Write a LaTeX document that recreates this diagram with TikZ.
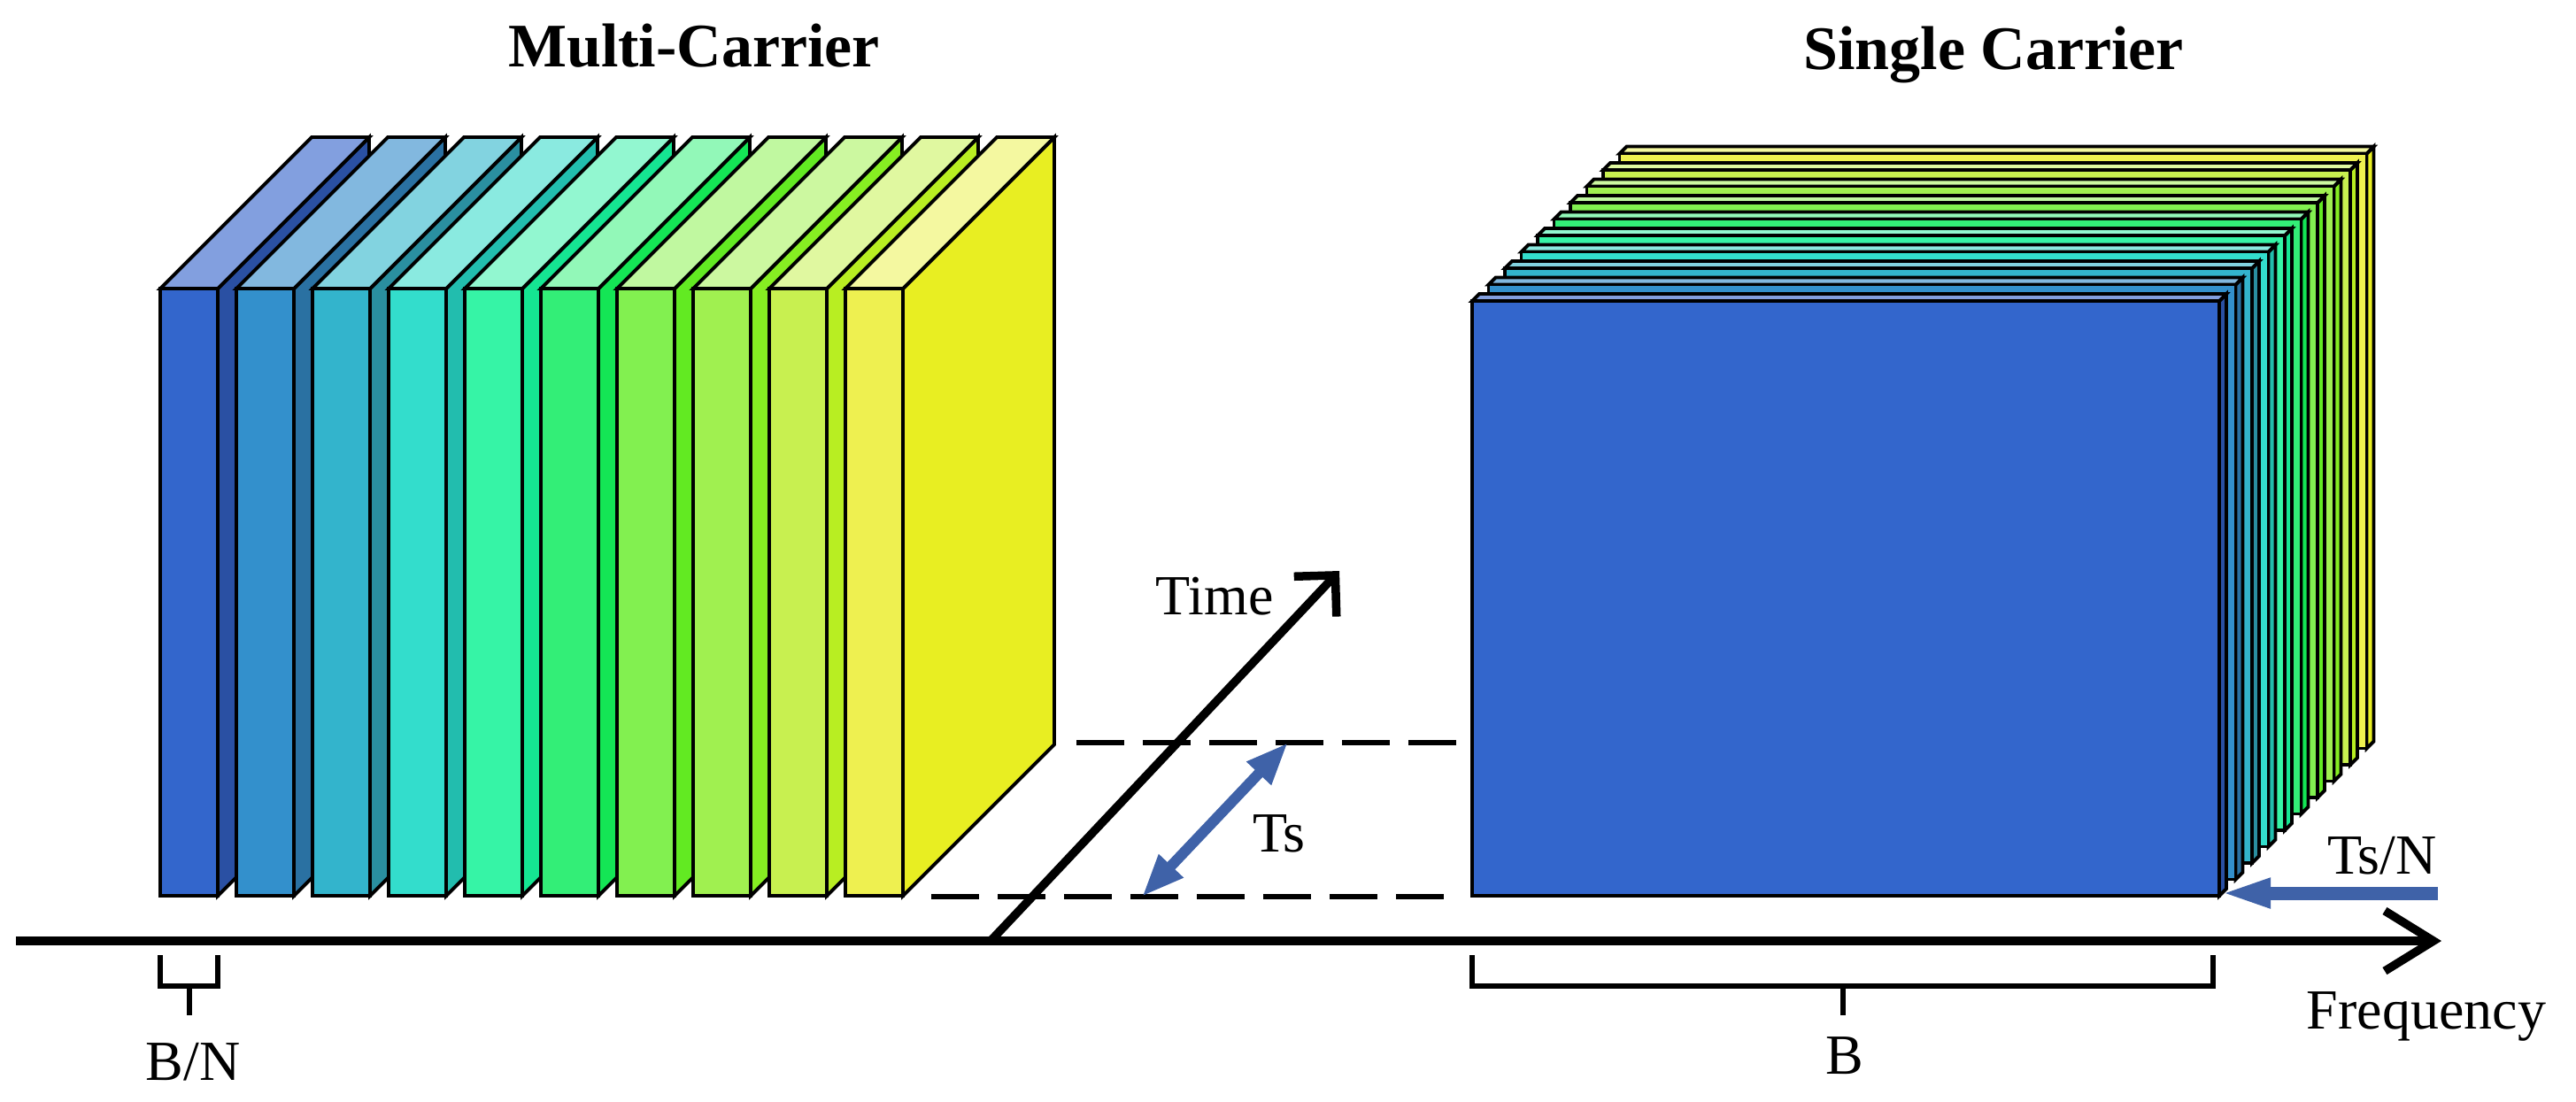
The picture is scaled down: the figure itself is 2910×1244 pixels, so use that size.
\documentclass[tikz,border=0pt]{standalone}
\usepackage{fontspec}
\setmainfont{Liberation Serif}
\usetikzlibrary{arrows.meta}

\definecolor{fr1}{HTML}{3366CC}\definecolor{tp1}{HTML}{829FDF}\definecolor{sd1}{HTML}{2A50A3}
\definecolor{fr2}{HTML}{3390CC}\definecolor{tp2}{HTML}{82B8DF}\definecolor{sd2}{HTML}{2A71A2}
\definecolor{fr3}{HTML}{33B4CC}\definecolor{tp3}{HTML}{82D3E0}\definecolor{sd3}{HTML}{2A8FA0}
\definecolor{fr4}{HTML}{33DDCC}\definecolor{tp4}{HTML}{8AEAE0}\definecolor{sd4}{HTML}{22BDAE}
\definecolor{fr5}{HTML}{36F4A6}\definecolor{tp5}{HTML}{92F7D0}\definecolor{sd5}{HTML}{15E592}
\definecolor{fr6}{HTML}{33EE77}\definecolor{tp6}{HTML}{92F8B8}\definecolor{sd6}{HTML}{14E555}
\definecolor{fr7}{HTML}{82F050}\definecolor{tp7}{HTML}{C0F8A0}\definecolor{sd7}{HTML}{62EA22}
\definecolor{fr8}{HTML}{A0F050}\definecolor{tp8}{HTML}{CCF8A0}\definecolor{sd8}{HTML}{86EE22}
\definecolor{fr9}{HTML}{C8F050}\definecolor{tp9}{HTML}{E0F8A0}\definecolor{sd9}{HTML}{B8EE22}
\definecolor{fr10}{HTML}{EEF050}\definecolor{tp10}{HTML}{F4F8A0}\definecolor{sd10}{HTML}{E8EE22}
\definecolor{tsblue}{HTML}{3F62A8}

\begin{document}
\begin{tikzpicture}[x=0.01cm, y=-0.01cm,
	slab/.style={draw=black, line width=1.1pt},
	axis/.style={line width=0.095cm},
	brk/.style={line width=0.06cm},
	dsh/.style={line width=0.06cm, dash pattern=on 0.54cm off 0.21cm},
	blk/.style={draw=tsblue},
	lbl/.style={anchor=base, font=\fontsize{18.2}{22}\selectfont},
	ttl/.style={anchor=base, font=\bfseries\fontsize{19.9}{24}\selectfont}]
	\useasboundingbox (0,0) rectangle (2910,1244);
	
	% multi-carrier
	\foreach \k in {1,...,10} {
		\pgfmathsetmacro{\xl}{181+86*(\k-1)}
		\pgfmathsetmacro{\xr}{\xl+65}
		\filldraw[slab, fill=sd\k] (\xr,326) -- ++(171,-171) -- ++(0,686) -- (\xr,1012) -- cycle;
		\filldraw[slab, fill=tp\k] (\xl,326) -- ++(171,-171) -- ++(65,0) -- (\xr,326) -- cycle;
		\filldraw[slab, fill=fr\k] (\xl,326) rectangle (\xr,1012);
	}
	
	% single carrier
	\foreach \k in {10,9,...,1} {
		\pgfmathsetmacro{\xl}{1663+18.5*(\k-1)}
		\pgfmathsetmacro{\yt}{340-18.5*(\k-1)}
		\pgfmathsetmacro{\xr}{\xl+844}
		\pgfmathsetmacro{\yb}{\yt+672}
		\filldraw[slab, fill=sd\k] (\xr,\yt) -- ++(8,-8) -- ++(0,672) -- (\xr,\yb) -- cycle;
		\filldraw[slab, fill=tp\k] (\xl,\yt) -- ++(8,-8) -- ++(844,0) -- (\xr,\yt) -- cycle;
		\filldraw[slab, fill=fr\k] (\xl,\yt) rectangle (\xr,\yb);
	}
	
	\coordinate (f0) at (18,1063);
	\coordinate (f1) at (2758,1063);
	\coordinate (t0) at (1119,1063);
	\coordinate (t1) at (1513,645);
	\coordinate (d0) at (1216,839);
	\coordinate (d1) at (1648,839);
	\coordinate (d2) at (1052,1013);
	\coordinate (d3) at (1636,1013);
	\coordinate (ts0) at (1290,1013);
	\coordinate (ts1) at (1455,839);
	\coordinate (tn0) at (2754,1009);
	\coordinate (tn1) at (2507,1009);
	
	\draw[dsh] (d0) -- (d1);
	\draw[dsh] (d2) -- (d3);
	\draw[blk, line width=0.12cm, {Triangle[length=0.48cm,width=0.35cm]}-{Triangle[length=0.48cm,width=0.35cm]}] (ts0) -- (ts1);
	\draw[blk, line width=0.15cm, -{Triangle[length=0.58cm,width=0.30cm]}] (tn0) -- (tn1);
	\draw[axis, -{Straight Barb[length=0.33cm,width=0.66cm]}] (t0) -- (t1);
	\draw[axis, -{Straight Barb[length=0.55cm,width=0.68cm]}] (f0) -- (f1);
	
	\draw[brk] (181,1079) |- (246,1114) -- (246,1079);
	\draw[brk] (214,1114) -- (214,1147);
	\draw[brk] (1663,1079) |- (2500,1114) -- (2500,1079);
	\draw[brk] (2082,1114) -- (2082,1147);
	
	\node[ttl] (mt) at (784,75) {Multi-Carrier};
	\node[ttl] (st) at (2252,78) {Single Carrier};
	\node[lbl] (tm) at (1372,694) {Time};
	\node[lbl] (ts) at (1445,962) {Ts};
	\node[lbl] (tn) at (2691,987) {Ts/N};
	\node[lbl] (fq) at (2741,1162) {Frequency};
	\node[lbl] (bn) at (218,1220) {B/N};
	\node[lbl] (bb) at (2084,1213) {B};
\end{tikzpicture}
\end{document}
